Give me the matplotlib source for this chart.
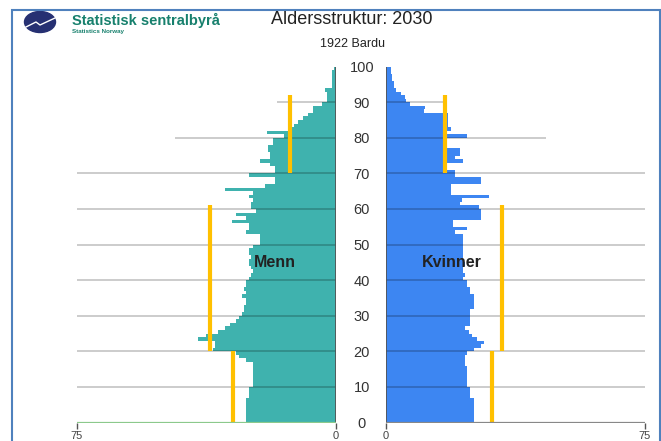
import numpy as np
import matplotlib
matplotlib.use("Agg")
import matplotlib.pyplot as plt
from matplotlib.patches import Ellipse, Rectangle

plt.rcParams['font.family'] = ['Liberation Sans', 'DejaVu Sans']

# population by one-year age group, 0..99
ages = np.arange(100)
menn = [
    26, 26, 26, 26, 26, 26, 26, 25, 25, 25,
    24, 24, 24, 24, 24, 24, 24, 26, 28, 29,
    35.5, 35, 35, 40, 37.5, 34, 32, 30.5, 29, 28,
    27, 26.5, 26.5, 26, 26, 27, 26, 26.5, 26, 26,
    25, 24.5, 24, 24.5, 25, 25, 24.5, 25, 25, 24,
    22, 22, 22, 26, 25, 25, 30, 26, 29, 23,
    24.5, 24.5, 24, 25, 24, 32, 20.5, 17.5, 17.5, 25,
    17.5, 17.5, 19, 22, 19, 19, 19.5, 19.5, 18, 18,
    15, 20, 12.5, 12, 11, 9.5, 8, 6.5, 6.5, 4,
    2.5, 2.5, 2.5, 3, 1, 1, 1, 1, 1, 0.5,
]
kvinner = [
    25.5, 25.5, 25.5, 25.5, 25.5, 25.5, 25.5, 24.5, 24.5, 24.5,
    23.5, 23.5, 23.5, 23.5, 23.5, 23.5, 23, 23, 23, 23.5,
    25.5, 27.5, 28.5, 26.5, 25, 24, 23, 24.5, 24.5, 24.5,
    24.5, 24.5, 25.5, 25.5, 25.5, 25.5, 24.5, 24.5, 23.5, 23.5,
    22.5, 23, 22.5, 22.5, 23, 22.5, 22.5, 22.5, 22.5, 22.5,
    22.5, 22.5, 22.5, 20, 23.5, 19.5, 19.5, 27.5, 27.5, 27.5,
    27, 21.5, 22, 30, 19, 19, 19, 27.5, 27.5, 20,
    20, 16.5, 16.5, 22.5, 20, 21.5, 21.5, 17, 17, 17,
    23.5, 17, 19, 18, 18, 18, 18, 11, 11.5, 7,
    6, 5.5, 4.5, 3, 2.5, 2.5, 2, 2, 1.5, 1.5,
]

# yellow reference lines: value, from age, to age
ref_from = [0, 20, 70]
ref_to = [20, 61, 92]
ref_menn = [29.8, 36.4, 13.2]
ref_kvinner = [30.8, 33.7, 17.2]

grid_ages = [10, 20, 30, 40, 50, 60, 70, 80, 90]
grid_reach = [75, 75, 75, 75, 75, 75, 75, 46.5, 17]

teal = '#3fb2ae'
blue = '#3d86f2'
gold = '#ffc000'

W, H = 661, 441
fig = plt.figure(figsize=(W / 100, H / 100), dpi=100)

yb = (H - 422.5) / H
yh = (422.5 - 66.6) / H
ax_l = fig.add_axes([77 / W, yb, (335.5 - 77) / W, yh])
ax_r = fig.add_axes([385.5 / W, yb, (645 - 385.5) / W, yh])

for ax, vals, col, refs in [(ax_l, menn, teal, ref_menn), (ax_r, kvinner, blue, ref_kvinner)]:
    ax.barh(ages, vals, height=1.0, align='edge', color=col, linewidth=0, zorder=2)
    for g, r in zip(grid_ages, grid_reach):
        ax.hlines(g, 0, r, color='black', alpha=0.2, lw=1.4, zorder=3)
    ax.vlines(refs, ref_from, ref_to, color=gold, lw=3, zorder=4)
    ax.axvline(0, color='#555555', lw=1.3, zorder=5)
    ax.set_ylim(0, 100)
    for s in ax.spines.values():
        s.set_visible(False)
    ax.set_xticks([0, 75])
    ax.tick_params(axis='x', length=4, width=1, color='#555555', labelsize=8,
                   labelcolor='#444444', pad=2)
    ax.patch.set_alpha(0)

ax_l.hlines(0, 0, 75, color='#8cc98c', lw=1.6, zorder=5)
ax_r.hlines(0, 0, 75, color='#888888', lw=1.6, zorder=5)

ax_l.set_xlim(75, 0)
ax_r.set_xlim(0, 75)

ax_l.yaxis.tick_right()
ax_l.set_yticks(range(0, 101, 10))
ax_l.tick_params(axis='y', length=0, labelsize=10.5, labelcolor='#333333', pad=19)
for lab in ax_l.get_yticklabels():
    lab.set_ha('center')
ax_r.set_yticks([])

ax_l.text(17.6, 45, 'Menn', ha='center', va='center', fontsize=11.5,
          fontweight='bold', color='#222222', zorder=6)
ax_r.text(19.3, 45, 'Kvinner', ha='center', va='center', fontsize=11.5,
          fontweight='bold', color='#222222', zorder=6)

fig.text(352 / W, 1 - 19 / H, 'Aldersstruktur: 2030', ha='center', va='center',
         fontsize=13, color='#222222')
fig.text(353 / W, 1 - 44 / H, '1922 Bardu', ha='center', va='center',
         fontsize=9, color='#222222')

# logo
ax_logo = fig.add_axes([0, (H - 45) / H, 250 / W, 45 / H])
ax_logo.set_xlim(0, 250)
ax_logo.set_ylim(45, 0)
ax_logo.axis('off')
ax_logo.add_patch(Ellipse((40, 22), 31, 21, color='#263072'))
ax_logo.plot([26, 36, 40, 55], [27, 22, 25, 18], color='white', lw=1)
ax_logo.text(72, 20, 'Statistisk sentralbyrå', fontsize=10.5, fontweight='bold',
             color='#17806d', va='center')
ax_logo.text(72, 31, 'Statistics Norway', fontsize=4.5, fontweight='bold',
             color='#17806d', va='center')

# frame
fig.patches.append(Rectangle((12 / W, -0.02), 648 / W, 1 - 10 / H + 0.02,
                             transform=fig.transFigure, fill=False,
                             edgecolor='#4f81bd', lw=1.5))

fig.savefig('out.png', dpi=100)
